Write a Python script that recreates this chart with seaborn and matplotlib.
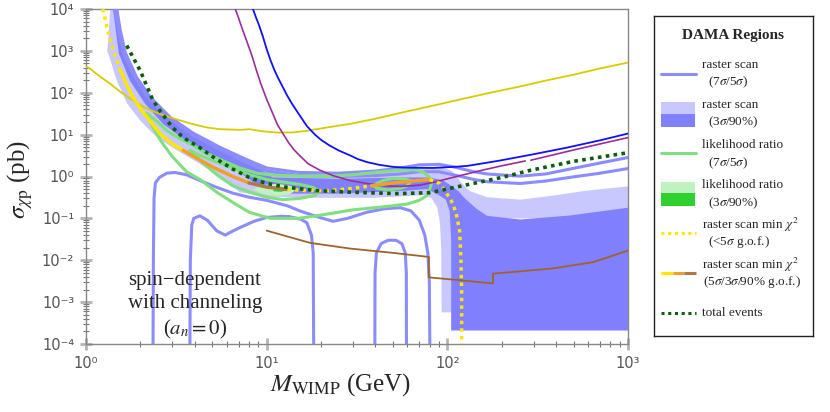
import numpy as np
import matplotlib
matplotlib.use("Agg")
import matplotlib.pyplot as plt
from matplotlib.patches import Rectangle
from matplotlib.ticker import LogLocator, FuncFormatter, NullFormatter
import seaborn as sns

# ---- values (M in GeV, sigma in pb) ----
# raster scan 3sigma (light) and 90% (dark) regions, polygon outlines
light_M = [1.31, 1.33, 1.36, 1.48, 1.55, 1.65, 1.9, 2.26, 2.92, 3.9, 5.5, 7.8, 10, 15, 25, 40, 55, 70, 90,
           105, 113, 120, 133, 166, 253, 385, 590, 1000, 1000, 106, 105, 93, 92.5, 91, 88, 82, 75, 60,
           38.7, 16.7, 10, 7.1, 5.7, 4.27, 3.2, 2.47, 1.99, 1.69, 1.48, 1.35]
light_s = [1000, 2000, 1e4, 1e4, 3000, 900, 240, 80, 26, 11, 5.0, 2.4, 1.5, 1.15, 1.1, 1.25, 1.45, 1.7, 1.7,
           1.4, 1.0, 0.7, 0.45, 0.32, 0.28, 0.35, 0.46, 0.58, 0.1, 0.1, 5.7e-4, 5.7e-4, 0.02, 0.08, 0.18,
           0.3, 0.36, 0.34, 0.31, 0.31, 0.33, 0.42, 0.9, 2.0, 4.2, 8.5, 22, 55, 195, 700]
dark_M = [1.41, 1.48, 1.64, 1.9, 2.26, 2.92, 3.9, 5.5, 7.8, 9.2, 10.8, 25.5, 59.4, 80, 95, 105, 115, 125,
          145, 166, 253, 475, 1000, 1000, 105, 105, 103, 98, 88, 77, 59.4, 25.5, 10.8, 9.2, 7.4, 5.3,
          3.76, 2.67, 2.12, 1.75, 1.52]
dark_s = [1e4, 1e4, 860, 230, 77, 25, 10.6, 4.9, 2.3, 1.5, 0.95, 0.88, 0.95, 0.95, 0.8, 0.6, 0.45, 0.3,
          0.17, 0.115, 0.094, 0.117, 0.18, 2.1e-4, 2.1e-4, 0.03, 0.15, 0.28, 0.38, 0.5, 0.46, 0.39, 0.39,
          0.55, 1.1, 2.6, 6.1, 18, 55, 195, 860]

# raster scan 7sigma / 5sigma contours
r7_up_M = [1.48, 1.55, 1.65, 1.9, 2.26, 2.92, 3.9, 5.5, 7.8, 10, 15, 25, 40, 55, 70, 90, 108, 140, 166,
           253, 350, 475, 700, 1000]
r7_up_s = [1e4, 3000, 900, 240, 80, 26, 11, 5.0, 2.5, 1.6, 1.25, 1.2, 1.35, 1.6, 1.9, 1.95, 1.7, 1.3,
           1.15, 1.02, 1.15, 1.5, 2.1, 2.84]
r5_up_M = [1.44, 1.52, 1.61, 1.86, 2.2, 2.85, 3.8, 5.3, 7.5, 10, 15, 25, 40, 55, 70, 90, 108, 140, 166,
           253, 350, 475, 700, 1000]
r5_up_s = [1e4, 3000, 900, 240, 80, 26, 10.5, 4.8, 2.3, 1.35, 1.05, 1.0, 1.05, 1.15, 1.3, 1.3, 1.1, 0.85,
           0.75, 0.68, 0.78, 0.95, 1.2, 1.55]
r7_low_M = [2.35, 2.36, 2.38, 2.42, 2.55, 2.8, 3.1, 3.6, 4.27, 5.3, 6.5, 8, 10, 13, 15.3, 19, 23.3, 28,
            35.8, 45, 55, 63, 70, 75, 78, 79.5, 80]
r7_low_s = [1e-4, 0.01, 0.3, 0.7, 0.95, 1.2, 1.25, 1.1, 0.8, 0.55, 0.4, 0.32, 0.27, 0.2, 0.15, 0.11,
            0.085, 0.1, 0.14, 0.17, 0.18, 0.15, 0.09, 0.04, 0.015, 0.003, 1e-4]
r5_low_M = [3.76, 3.78, 3.85, 3.95, 4.27, 4.7, 5.3, 5.9, 6.5, 7.1, 8.5, 10, 12, 13.4, 15.5, 16.7, 17.7,
            18.1, 18.2]
r5_low_s = [1e-4, 0.01, 0.07, 0.1, 0.115, 0.09, 0.05, 0.04, 0.05, 0.06, 0.085, 0.105, 0.112, 0.11, 0.095,
            0.078, 0.04, 0.015, 1e-4]
r5_arch_M = [39.7, 39.8, 40.5, 43, 47, 52, 56, 58.5, 59.3, 59.4]
r5_arch_s = [1e-4, 0.005, 0.015, 0.025, 0.03, 0.03, 0.025, 0.015, 0.005, 1e-4]

# likelihood ratio regions
lr3_M = [8.4, 9.5, 11.5, 13.5, 14.7, 13.5, 11.5, 9.5, 8.4]
lr3_s = [0.5, 0.63, 0.67, 0.6, 0.5, 0.38, 0.34, 0.38, 0.5]
lr90_M = [10.8, 11.5, 12.5, 13.0, 12.0, 11.0, 10.8]
lr90_s = [0.48, 0.53, 0.52, 0.47, 0.43, 0.44, 0.48]
lr7_M = [2.17, 2.5, 2.8, 3.3, 3.76, 4.5, 5.7, 7.1, 8.8, 10.8, 15, 22, 30, 40, 52, 65, 73, 79, 82, 80, 77,
         70, 60, 45, 30, 20, 15, 10.5, 8, 6.5, 5.3, 4.27, 3.6, 3.0, 2.6, 2.35, 2.17]
lr7_s = [32, 20, 12.5, 8, 6.1, 3.8, 2.4, 1.6, 1.2, 1.08, 1.03, 1.0, 1.1, 1.25, 1.4, 1.45, 1.3, 1.0, 0.72,
         0.5, 0.35, 0.27, 0.22, 0.19, 0.16, 0.12, 0.1, 0.1, 0.14, 0.24, 0.42, 0.85, 1.3, 3.0, 7, 15, 32]
lr5_M = [3.76, 4.27, 5.3, 6.5, 8, 10, 12, 15.3, 18, 19.5, 18.5, 15.3, 12.3, 10, 8.1, 6.5, 5.3, 4.5, 3.76]
lr5_s = [4.2, 3.2, 2.2, 1.6, 1.1, 0.85, 0.75, 0.65, 0.55, 0.45, 0.35, 0.3, 0.28, 0.32, 0.42, 0.6, 1.1,
         2.0, 4.2]
lr5b_M = [38.7, 44, 50, 58, 63, 60, 55, 47, 41, 38.7]
lr5b_s = [0.61, 0.8, 0.9, 0.88, 0.78, 0.6, 0.52, 0.48, 0.52, 0.61]

# raster scan min chi^2 (best fit) curve
best_M = [1.24, 1.32, 1.40, 1.48, 1.55, 1.65, 1.8, 2.0, 2.26, 2.6, 3.0, 3.45, 4.0, 5.0, 6.5, 8.0, 10, 13,
          17, 22, 30, 38, 50, 65, 80, 91, 99, 107, 112, 117, 119, 120, 120]
best_s = [1e4, 3000, 1200, 600, 350, 180, 85, 42, 21, 10, 6.0, 4.2, 2.9, 1.7, 1.0, 0.7, 0.56, 0.49, 0.46,
          0.46, 0.52, 0.6, 0.7, 0.78, 0.85, 0.68, 0.4, 0.23, 0.13, 0.05, 0.01, 0.002, 1e-4]

# total events
tot_M = [1.68, 2.0, 2.35, 2.57, 3.0, 3.45, 4.27, 5.0, 6.5, 8.0, 10, 13, 18.9, 30, 52.6, 80, 123, 200, 287,
         500, 1000]
tot_s = [1340, 330, 65, 37, 15, 8.5, 4.9, 3.0, 1.5, 0.95, 0.68, 0.55, 0.46, 0.42, 0.39, 0.41, 0.61, 0.95,
         1.4, 2.3, 3.7]

# other experiments' limits
yel_M = [1.0, 1.05, 1.2, 1.36, 1.55, 1.75, 2.1, 2.47, 2.9, 3.3, 3.7, 4.2, 4.67, 5.5, 7.1, 8.0, 9.2, 11.4,
         14, 16.5, 18.9, 23, 28.9, 40, 60, 90, 128, 180, 250, 350, 500, 700, 1000]
yel_s = [420, 380, 240, 165, 105, 73, 45, 33, 26, 22, 19, 16.5, 14.8, 13.5, 13.0, 13.5, 12.2, 11.2,
         11.3, 12.2, 13.5, 15.5, 18, 24, 36, 53, 75, 104, 140, 195, 270, 380, 525]
blue_M = [8.4, 8.7, 9.0, 9.5, 10, 10.5, 11, 11.6, 12.3, 13, 13.8, 14.6, 15.3, 16.7, 18.5, 20, 22, 25,
          28.9, 32, 36, 42, 50, 60, 83, 110, 130, 195, 300, 460, 700, 1000]
blue_s = [1e4, 6500, 4500, 2300, 1100, 600, 360, 220, 135, 85, 55, 38, 28, 16, 10, 7.5, 5.7, 4.2, 3.2,
          2.6, 2.2, 1.9, 1.7, 1.62, 1.6, 1.7, 1.8, 2.4, 3.4, 4.9, 7.3, 10.6]
purp_M = [6.7, 7.0, 7.3, 7.8, 8.3, 8.8, 9.3, 10, 10.8, 11.5, 12.3, 13.2, 14.2, 15.3, 17, 19.8, 23.3, 28.9,
          35.8, 45, 55, 70, 83, 100, 128, 160, 200, 270]
purp_s = [1e4, 6000, 3500, 1600, 750, 330, 160, 70, 32, 17, 10.6, 6.5, 4.3, 3.1, 2.0, 1.4, 1.05, 0.8,
          0.68, 0.6, 0.58, 0.62, 0.72, 0.88, 1.15, 1.45, 1.8, 2.35]
purp2_M = [290, 500, 1000]
purp2_s = [2.45, 4.3, 8.5]
brown_M = [10, 13, 17.4, 29, 50, 79, 79, 120, 179, 179, 250, 385, 640, 1000]
brown_s = [0.051, 0.037, 0.026, 0.019, 0.015, 0.012, 0.0039, 0.0033, 0.0028, 0.0048, 0.0054, 0.0064,
           0.009, 0.017]

DOT = (0, (1, 1.2))
C_RLINE, C_RLIGHT, C_RDARK = "#8c8cff", "#c8c8ff", "#8080ff"
C_GLINE, C_GLIGHT, C_GDARK = "#80e080", "#c0f2c0", "#30d030"
C_YEL, C_ORA, C_BRO = "#ffe600", "#f0a028", "#b07a48"
C_TOT = "#0b5e0b"

sns.set_theme(style="ticks")
plt.rcParams["font.family"] = ["Liberation Serif", "DejaVu Serif"]
plt.rcParams["mathtext.fontset"] = "stix"

fig = plt.figure(figsize=(8.3, 4.12), dpi=100)
ax = fig.add_axes([86 / 830, 1 - 344 / 412, 542 / 830, 335 / 412])
ax.set_xscale("log")
ax.set_yscale("log")


def curve(x, y, **kw):
    sns.lineplot(x=x, y=y, sort=False, estimator=None, ax=ax, legend=False, **kw)


ax.fill(light_M, light_s, color=C_RLIGHT, lw=0, zorder=1)
ax.fill(dark_M, dark_s, color=C_RDARK, lw=0, zorder=2)
ax.fill(lr3_M, lr3_s, color=C_GLIGHT, lw=0, zorder=3)
ax.fill(lr90_M, lr90_s, color=C_GDARK, lw=0, zorder=3)

for xm, ys in [(r7_up_M, r7_up_s), (r5_up_M, r5_up_s), (r7_low_M, r7_low_s),
               (r5_low_M, r5_low_s), (r5_arch_M, r5_arch_s)]:
    curve(xm, ys, color=C_RLINE, lw=2.2, zorder=4)
for xm, ys in [(lr7_M, lr7_s), (lr5_M, lr5_s), (lr5b_M, lr5b_s)]:
    curve(xm, ys, color=C_GLINE, lw=2.2, zorder=5)

curve(yel_M, yel_s, color="#d8cc00", lw=1.3, zorder=6)
curve(blue_M, blue_s, color="#1010ff", lw=1.3, zorder=6)
curve(purp_M, purp_s, color="#9a2e9a", lw=1.2, zorder=6)
curve(purp2_M, purp2_s, color="#9a2e9a", lw=1.2, zorder=6)
curve(brown_M, brown_s, color="#a0622d", lw=1.3, zorder=6)

# best-fit curve, coloured by goodness of fit
segments = [(0, 4, C_YEL, DOT), (4, 11, C_YEL, "-"), (11, 15, C_ORA, "-"), (15, 17, C_BRO, "-"),
            (17, 21, C_YEL, DOT), (21, 24, C_ORA, "-"), (24, 32, C_YEL, DOT)]
for i0, i1, col, ls in segments:
    curve(best_M[i0:i1 + 1], best_s[i0:i1 + 1], color=col, lw=2.5, linestyle=ls, zorder=7)

curve(tot_M, tot_s, color=C_TOT, lw=2.6, linestyle=DOT, zorder=8)

ax.set_xlim(1, 1000)
ax.set_ylim(1e-4, 1e4)

sup = str.maketrans("-0123456789", "⁻⁰¹²³⁴⁵⁶⁷⁸⁹")
fmt = FuncFormatter(lambda v, p: "10" + str(int(round(np.log10(v)))).translate(sup))
for axis in (ax.xaxis, ax.yaxis):
    axis.set_major_locator(LogLocator(base=10, numticks=20))
    axis.set_minor_locator(LogLocator(base=10, subs=np.arange(2, 10), numticks=100))
    axis.set_major_formatter(fmt)
    axis.set_minor_formatter(NullFormatter())
ax.tick_params(which="major", direction="inout", length=9, width=2, color="#b5b5b5",
               labelsize=10.5, labelcolor="#555555", labelfontfamily="DejaVu Sans", pad=4)
ax.tick_params(which="minor", direction="inout", length=4, width=0.8, color="#777777")
for sp in ax.spines.values():
    sp.set_visible(True)
    sp.set_color("#888888")
    sp.set_linewidth(1)

ax.set_xlabel(r"$M_{\mathrm{WIMP}}$ (GeV)", fontsize=18)
ax.xaxis.set_label_coords(0.47, -0.08)
ax.set_ylabel(r"$\sigma_{\chi\mathrm{p}}$ (pb)", fontsize=18)
ax.yaxis.set_label_coords(-0.095, 0.49)

ax.text(0.201, 0.113, "spin\u2212dependent\nwith channeling\n($a_n = 0$)", transform=ax.transAxes,
        ha="center", va="center", fontsize=15, linespacing=1.3, zorder=10)

# ---- legend box ----
lax = fig.add_axes([654 / 830, 1 - 336 / 412, 159 / 830, 320 / 412])
lax.set_xlim(0, 159)
lax.set_ylim(320, 0)
lax.set_xticks([])
lax.set_yticks([])
for sp in lax.spines.values():
    sp.set_visible(True)
    sp.set_color("#222222")
    sp.set_linewidth(1)

lax.text(79, 19, "DAMA Regions", ha="center", va="center", fontsize=11, fontweight="bold")
fs = 9.5
lax.plot([7, 42], [58, 58], color=C_RLINE, lw=2.2)
lax.text(48, 49, "raster scan", va="center", fontsize=fs)
lax.text(54, 66, r"(7$\sigma$/5$\sigma$)", va="center", fontsize=fs)

lax.add_patch(Rectangle((7, 86), 34, 12, color=C_RLIGHT, lw=0))
lax.add_patch(Rectangle((7, 98), 34, 13, color=C_RDARK, lw=0))
lax.text(48, 89, "raster scan", va="center", fontsize=fs)
lax.text(54, 106, r"(3$\sigma$/90%)", va="center", fontsize=fs)

lax.plot([7, 42], [137, 137], color=C_GLINE, lw=2.2)
lax.text(48, 129, "likelihood ratio", va="center", fontsize=fs)
lax.text(54, 147, r"(7$\sigma$/5$\sigma$)", va="center", fontsize=fs)

lax.add_patch(Rectangle((7, 166), 34, 11, color=C_GLIGHT, lw=0))
lax.add_patch(Rectangle((7, 177), 34, 13, color=C_GDARK, lw=0))
lax.text(48, 169, "likelihood ratio", va="center", fontsize=fs)
lax.text(54, 187, r"(3$\sigma$/90%)", va="center", fontsize=fs)

lax.plot([7, 42], [217, 217], color=C_YEL, lw=2.2, linestyle=DOT)
lax.text(48, 209, r"raster scan min $\chi^2$", va="center", fontsize=fs)
lax.text(54, 226, r"(<5$\sigma$ g.o.f.)", va="center", fontsize=fs)

lax.plot([7, 18.5], [257, 257], color=C_YEL, lw=2.2, solid_capstyle="butt")
lax.plot([18.5, 30], [257, 257], color=C_ORA, lw=2.2, solid_capstyle="butt")
lax.plot([30, 42], [257, 257], color=C_BRO, lw=2.2, solid_capstyle="butt")
lax.text(48, 249, r"raster scan min $\chi^2$", va="center", fontsize=fs)
lax.text(49, 266, r"(5$\sigma$/3$\sigma$/90% g.o.f.)", va="center", fontsize=fs)

lax.plot([7, 42], [297, 297], color=C_TOT, lw=2.2, linestyle=DOT)
lax.text(48, 297, "total events", va="center", fontsize=fs)

fig.savefig("out.png", dpi=100)
